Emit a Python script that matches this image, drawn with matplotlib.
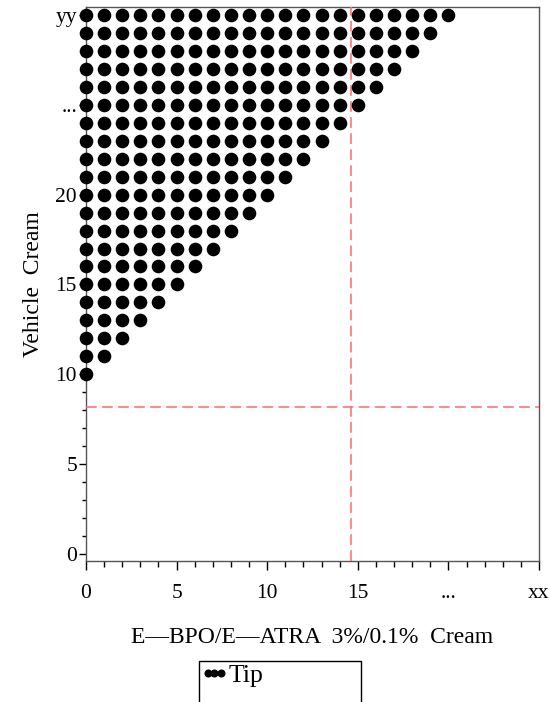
import numpy as np
import matplotlib.pyplot as plt
from matplotlib.lines import Line2D
from matplotlib.patches import Rectangle

# rows of the triangle: y value of each row and the last x filled in it
row_y = [10, 11, 12, 13, 14, 15, 16, 17, 18, 19, 20,
         21, 22, 23, 24, 25, 26, 27, 28, 29, 30]
row_last_x = [0, 1, 2, 3, 4, 5, 6, 7, 8, 9, 10,
              11, 12, 13, 14, 15, 16, 17, 18, 19, 20]

xticks = [0, 5, 10, 15, 20, 25]
xticklabels = ["0", "5", "10", "15", "...", "xx"]
yticks = [0, 5, 10, 15, 20, 25, 30]
yticklabels = ["0", "5", "10", "15", "20", "...", "yy"]

ref_x = 14.6
ref_y = 8.15

pts_x = []
pts_y = []
for yv, last in zip(row_y, row_last_x):
    for xv in range(0, last + 1):
        pts_x.append(xv)
        pts_y.append(yv)

plt.rcParams['font.family'] = ['Liberation Serif', 'DejaVu Serif']

fig = plt.figure(figsize=(5.5, 7.02), dpi=100)
ax = fig.add_axes([86 / 550, 1 - 561 / 702, (539 - 86) / 550, (561 - 7) / 702])

ax.plot(pts_x, pts_y, linestyle="none", marker="o", markersize=9.8,
        markeredgewidth=0, color="black", clip_on=False, zorder=5)

ax.axvline(ref_x, color="#ff6a6a", linestyle=(0, (7, 3.5)), linewidth=1.1, zorder=3)
ax.axhline(ref_y, color="#ff6a6a", linestyle=(0, (7, 3.5)), linewidth=1.1, zorder=3)

ax.set_xlim(0, 25)
ax.set_ylim(-0.4, 30.45)
ax.set_xticks(xticks)
ax.set_xticklabels(xticklabels)
ax.set_yticks(yticks)
ax.set_yticklabels(yticklabels)
ax.set_xticks(np.arange(0, 26, 1), minor=True)
ax.set_yticks(np.arange(0, 31, 1), minor=True)
ax.tick_params(axis="x", which="major", length=6.5, width=1, pad=10, labelsize=15.5)
ax.tick_params(axis="x", which="minor", length=4, width=1)
ax.tick_params(axis="y", which="major", length=5, width=1, pad=1.5, labelsize=15.5)
ax.tick_params(axis="y", which="minor", length=3, width=1)
for s in ax.spines.values():
    s.set_color("#555555")
    s.set_linewidth(1)

ax.set_xlabel("E\u2014BPO/E\u2014ATRA  3%/0.1%  Cream", fontsize=17)
ax.xaxis.set_label_coords(0.5, -0.119)
ax.set_ylabel("Vehicle  Cream", fontsize=17)
ax.yaxis.set_label_coords(-0.092, 0.5)

# legend box runs past the bottom edge
fig.add_artist(Rectangle((199 / 550, -0.05), (361 - 199) / 550, 0.05 + 1 - 661 / 702,
                         transform=fig.transFigure, facecolor="none",
                         edgecolor="black", linewidth=1))
handle = Line2D([], [], linestyle="none", marker="o", markersize=5.8,
                markeredgewidth=0, color="black")
leg = fig.legend([handle], ["Tip"], loc="upper left",
                 bbox_to_anchor=(200 / 550, 1 - 664 / 702), numpoints=3,
                 handlelength=1.1, handletextpad=0.0, borderpad=0,
                 fontsize=18.5, frameon=False, borderaxespad=0)

fig.savefig("out.png", dpi=100)
